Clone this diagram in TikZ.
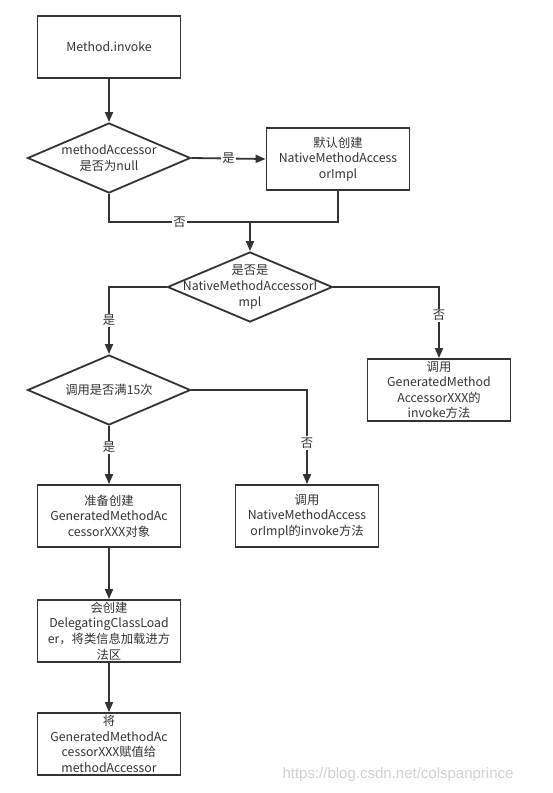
\documentclass[tikz,border=0pt]{standalone}
\usepackage{fontspec}
\setmainfont{Noto Sans CJK SC}
\newfontfamily\markfont{Liberation Sans}
\usetikzlibrary{shapes.geometric, arrows.meta}
\definecolor{flowline}{HTML}{333333}
\definecolor{flowtext}{HTML}{333333}
\definecolor{markgray}{HTML}{D0D0D0}

\tikzset{
  procbox/.style={draw=flowline, line width=1.8pt, rectangle, minimum width=143pt,
                  minimum height=62pt, inner sep=0pt, align=center, text=flowtext},
  decision/.style={draw=flowline, line width=1.8pt, diamond, minimum width=163pt,
                   minimum height=70pt, inner sep=0pt},
  decisiontext/.style={align=center, text=flowtext, inner sep=0pt},
  flow/.style={flowline, line width=1.8pt},
  yesno/.style={fill=white, text=flowtext, inner sep=1.5pt}
}

\begin{document}
\begin{tikzpicture}[x=1pt, y=-1pt, >={Triangle[length=10pt, width=8pt]},
                    font=\fontsize{12.3}{15.6}\selectfont]
  \useasboundingbox (0,0) rectangle (552,793);

  % First check
  \node[procbox] (start) at (109,47) {Method.invoke};
  \node[decision, label={[decisiontext]center:{methodAccessor\\是否为null}}] (chkNull) at (109,158) {};
  \node[procbox] (mkNative) at (338,159) {默认创建\\NativeMethodAccess\\orImpl};
  \coordinate (join) at (250,222);

  % Second check
  \node[decision, minimum width=165pt,
        label={[decisiontext]center:{是否是\\NativeMethodAccessorI\\mpl}}] (chkNative) at (250,287) {};
  \node[procbox] (callGen) at (439,390) {调用\\GeneratedMethod\\AccessorXXX的\\invoke方法};

  % Count check
  \node[decision, label={[decisiontext]center:{调用是否满15次}}] (chkCount) at (109,390) {};
  \node[procbox] (prepGen) at (109,516) {准备创建\\GeneratedMethodAc\\cessorXXX对象};
  \node[procbox] (callNative) at (307,516) {调用\\NativeMethodAccess\\orImpl的invoke方法};
  \node[procbox] (loader) at (109,631) {会创建\\DelegatingClassLoad\\er，将类信息加载进方\\法区};
  \node[procbox] (assign) at (109,744) {将\\GeneratedMethodAc\\cessorXXX赋值给\\methodAccessor};

  % Connectors
  \draw[flow, ->] (start) -- (chkNull);
  \draw[flow, ->] (chkNull.east) -- node[yesno]{是} (mkNative.west);
  \draw[flow] (chkNull.south) |- node[yesno, pos=0.75]{否} (join);
  \draw[flow] (mkNative.south) |- (join);
  \draw[flow, ->] (join) -- (chkNative.north);
  \draw[flow, ->] (chkNative.west) -| node[yesno, pos=0.75]{是} (chkCount.north);
  \draw[flow, ->] (chkNative.east) -| node[yesno, pos=0.7]{否} (callGen.north);
  \draw[flow, ->] (chkCount.south) -- node[yesno, pos=0.37]{是} (prepGen.north);
  \draw[flow, ->] (chkCount.east) -| node[yesno, pos=0.78]{否} (callNative.north);
  \draw[flow, ->] (prepGen) -- (loader);
  \draw[flow, ->] (loader) -- (assign);

  % Watermark
  \node[markgray, font=\markfont\fontsize{15}{18}\selectfont] (mark) at (398,775)
    {https://blog.csdn.net/colspanprince};
\end{tikzpicture}
\end{document}
